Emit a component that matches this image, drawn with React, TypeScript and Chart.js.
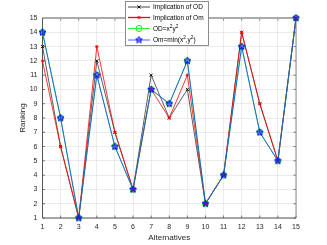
import React, { useEffect, useRef } from 'react';
import { Chart, registerables } from 'chart.js';
import { drawPoint } from 'chart.js/helpers';

Chart.register(...registerables);

const categories = [1, 2, 3, 4, 5, 6, 7, 8, 9, 10, 11, 12, 13, 14, 15];
const implicationOD = [13, 6, 1, 12, 7, 3, 11, 8, 10, 2, 4, 14, 9, 5, 15];
const implicationOm = [12, 6, 1, 13, 7, 3, 10, 8, 11, 2, 4, 14, 9, 5, 15];
const odSquare = [14, 8, 1, 11, 6, 3, 10, 9, 12, 2, 4, 13, 7, 5, 15];
const omMin = [14, 8, 1, 11, 6, 3, 10, 9, 12, 2, 4, 13, 7, 5, 15];
const xTicks = [1, 2, 3, 4, 5, 6, 7, 8, 9, 10, 11, 12, 13, 14, 15];
const yTicks = [1, 2, 3, 4, 5, 6, 7, 8, 9, 10, 11, 12, 13, 14, 15];
const legendLabels = ['Implication of OD', 'Implication of Om', 'OD=x^2y^2', 'Om=min(x^2,y^2)'];
const xTitle = 'Alternatives';
const yTitle = 'Ranking';

const FONT = '"Liberation Sans", Arial, Helvetica, sans-serif';

function makePentagram(color: string, r: number): HTMLCanvasElement {
  const size = Math.ceil(r * 2 + 3);
  const c = document.createElement('canvas');
  c.width = size;
  c.height = size;
  const g = c.getContext('2d')!;
  const cx = size / 2, cy = size / 2;
  g.beginPath();
  for (let i = 0; i < 10; i++) {
    const rad = i % 2 === 0 ? r : r * 0.42;
    const ang = -Math.PI / 2 + (i * Math.PI) / 5;
    const px = cx + rad * Math.cos(ang);
    const py = cy + rad * Math.sin(ang);
    if (i === 0) g.moveTo(px, py); else g.lineTo(px, py);
  }
  g.closePath();
  g.fillStyle = 'rgba(0,0,255,0.35)';
  g.fill();
  g.strokeStyle = color;
  g.lineWidth = 1;
  g.stroke();
  return c;
}

const seriesStyles: any[] = [
  { color: '#000000', lineColor: '#1a1a1a', pointStyle: 'crossRot', radius: 2.2, width: 0.7, order: 4 },
  { color: '#ff0000', lineColor: '#ff0000', pointStyle: 'star', radius: 1.6, width: 0.8, order: 3 },
  { color: '#00ee00', lineColor: '#00ee00', pointStyle: 'circle', radius: 3, width: 0.8, order: 2 },
  { color: '#0000ff', lineColor: '#2040ff', pointStyle: 'pentagram', radius: 3.6, width: 0.8, order: 1 },
];

function drawRichText(ctx: CanvasRenderingContext2D, text: string, x: number, y: number, size: number) {
  let cx = x;
  for (let i = 0; i < text.length; i++) {
    const ch = text[i];
    if (ch === '^' && i + 1 < text.length) {
      const s = text[i + 1];
      ctx.font = `${size * 0.72}px ${FONT}`;
      ctx.fillText(s, cx, y - size * 0.38);
      cx += ctx.measureText(s).width;
      i++;
    } else {
      ctx.font = `${size}px ${FONT}`;
      ctx.fillText(ch, cx, y);
      cx += ctx.measureText(ch).width;
    }
  }
}

const framePlugin = {
  id: 'frame',
  beforeDatasetsDraw(chart: any) {
    const { ctx, chartArea: a, scales } = chart;
    ctx.save();
    ctx.strokeStyle = '#555555';
    ctx.lineWidth = 0.8;
    const tl = 2.5;
    ctx.beginPath();
    xTicks.forEach((v) => {
      const px = scales.x.getPixelForValue(v);
      ctx.moveTo(px, a.bottom);
      ctx.lineTo(px, a.bottom - tl);
      ctx.moveTo(px, a.top);
      ctx.lineTo(px, a.top + tl);
    });
    yTicks.forEach((v) => {
      const py = scales.y.getPixelForValue(v);
      ctx.moveTo(a.left, py);
      ctx.lineTo(a.left + tl, py);
      ctx.moveTo(a.right, py);
      ctx.lineTo(a.right - tl, py);
    });
    ctx.stroke();
    ctx.strokeStyle = '#aaaaaa';
    ctx.lineWidth = 2;
    ctx.beginPath();
    ctx.moveTo(a.left, a.top);
    ctx.lineTo(a.right, a.top);
    ctx.stroke();
    ctx.strokeStyle = '#888888';
    ctx.lineWidth = 1;
    ctx.beginPath();
    ctx.moveTo(a.right, a.top);
    ctx.lineTo(a.right, a.bottom);
    ctx.stroke();
    ctx.strokeStyle = '#555555';
    ctx.lineWidth = 1;
    ctx.beginPath();
    ctx.moveTo(a.left, a.top);
    ctx.lineTo(a.left, a.bottom);
    ctx.lineTo(a.right, a.bottom);
    ctx.stroke();
    ctx.restore();
  },
};

export default function App() {
  const ref = useRef<HTMLCanvasElement>(null);
  useEffect(() => {
    document.body.style.margin = '0';
    const styles = seriesStyles.map((s) => ({
      ...s,
      pointStyle: s.pointStyle === 'pentagram' ? makePentagram(s.color, s.radius) : s.pointStyle,
    }));
    const legendPlugin = {
      id: 'matlabLegend',
      afterDraw(chart: any) {
        const { ctx } = chart;
        const bx = 125.5, by = 1.5, bw = 83, bh = 44;
        ctx.save();
        ctx.fillStyle = '#ffffff';
        ctx.fillRect(bx, by, bw, bh);
        ctx.strokeStyle = '#8c8c8c';
        ctx.lineWidth = 1;
        ctx.strokeRect(bx, by, bw, bh);
        const rows = [7, 17.5, 28.5, 40];
        legendLabels.forEach((label, i) => {
          const st = styles[i];
          const y = rows[i];
          ctx.strokeStyle = st.lineColor;
          ctx.lineWidth = i === 1 ? 1.3 : 0.8;
          ctx.beginPath();
          ctx.moveTo(128, y);
          ctx.lineTo(150, y);
          ctx.stroke();
          ctx.fillStyle = 'rgba(0,0,0,0)';
          ctx.strokeStyle = st.color;
          ctx.lineWidth = 0.9;
          drawPoint(ctx, { pointStyle: st.pointStyle, radius: st.radius, rotation: 0, borderWidth: 0.9 } as any, 139, y);
          ctx.fillStyle = '#000000';
          ctx.textBaseline = 'middle';
          ctx.textAlign = 'left';
          drawRichText(ctx, label, 153, y + 0.5, 6.5);
        });
        ctx.restore();
      },
    };
    const series = [implicationOD, implicationOm, odSquare, omMin];
    const chart = new Chart(ref.current!, {
      type: 'line',
      data: {
        datasets: series.map((vals, i) => ({
          label: legendLabels[i],
          data: categories.map((c, j) => ({ x: c, y: vals[j] })),
          borderColor: styles[i].lineColor,
          backgroundColor: 'rgba(0,0,0,0)',
          borderWidth: styles[i].width,
          pointStyle: styles[i].pointStyle,
          pointRadius: styles[i].radius,
          pointBorderWidth: 0.9,
          pointBorderColor: styles[i].color,
          pointBackgroundColor: 'rgba(0,0,0,0)',
          tension: 0,
          order: styles[i].order,
          clip: false as any,
        })),
      },
      options: {
        responsive: false,
        animation: false,
        events: [],
        layout: { padding: { left: 0, right: 31, top: 18, bottom: 0 } },
        plugins: { legend: { display: false }, tooltip: { enabled: false } },
        scales: {
          x: {
            type: 'linear',
            min: 1,
            max: 15,
            afterBuildTicks: (s: any) => { s.ticks = xTicks.map((v) => ({ value: v })); },
            afterFit: (s: any) => { s.height = 27; },
            grid: { color: '#e6e6e6', lineWidth: 0.8, tickLength: 0, drawTicks: false },
            border: { display: false },
            ticks: { color: '#262626', font: { family: FONT, size: 7 }, padding: 5, autoSkip: false, maxRotation: 0 },
            title: { display: true, text: xTitle, color: '#262626', font: { family: FONT, size: 8 }, padding: { top: 0, bottom: 2 } },
          },
          y: {
            type: 'linear',
            min: 1,
            max: 15,
            afterBuildTicks: (s: any) => { s.ticks = yTicks.map((v) => ({ value: v })); },
            afterFit: (s: any) => { s.width = 42.5; },
            grid: { color: '#e6e6e6', lineWidth: 0.8, tickLength: 0, drawTicks: false },
            border: { display: false },
            ticks: { color: '#262626', font: { family: FONT, size: 7 }, padding: 5, autoSkip: false },
            title: { display: true, text: yTitle, color: '#262626', font: { family: FONT, size: 8 }, padding: { top: 18, bottom: 0 } },
          },
        },
      },
      plugins: [framePlugin, legendPlugin],
    });
    return () => chart.destroy();
  }, []);
  return (
    <div style={{ position: 'absolute', left: 0, top: 0, width: 327, height: 245, background: '#fff' }}>
      <canvas ref={ref} width={327} height={245} />
    </div>
  );
}
